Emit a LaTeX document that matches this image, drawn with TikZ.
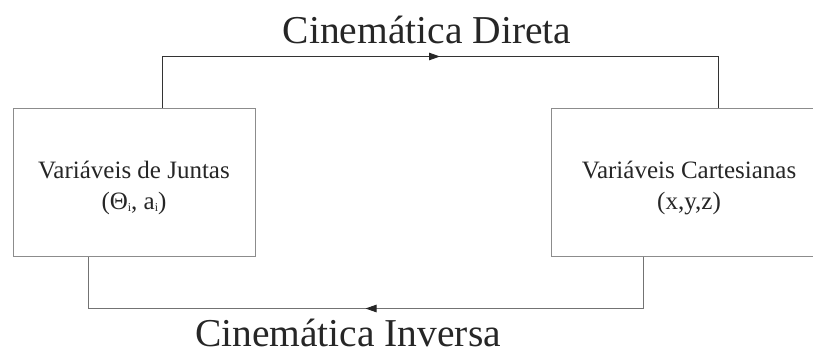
\documentclass[tikz,border=0pt]{standalone}
\usepackage{fontspec}
\setmainfont{Liberation Serif}
\usetikzlibrary{arrows.meta,decorations.markings}
\newcommand{\tinysub}[1]{\raisebox{-1.5pt}{\fontsize{12}{12}\selectfont #1}}
\tikzset{
  varbox/.style={draw=black!45, line width=1pt, inner sep=0pt, minimum height=148pt},
  boxtext/.style={align=center, inner sep=0pt, font=\fontsize{25}{31}\selectfont, text=black!85},
  midarrow/.style={postaction={decorate}, decoration={markings,
    mark=at position 0.5 with {\arrow[black!85]{Triangle[length=11pt,width=7.5pt]}}}},
  fwdline/.style={draw=black!80, line width=0.9pt, midarrow},
  invline/.style={draw=black!55, line width=0.9pt, midarrow},
  bigtext/.style={font=\fontsize{39.5}{44}\selectfont, text=black!85, inner sep=0pt, anchor=base, text depth=0pt}
}
\begin{document}
\begin{tikzpicture}[x=1pt,y=-1pt]
\useasboundingbox (0,0) rectangle (813,354);
\node[varbox, minimum width=242pt] (L) at (134,182) {};
\node[varbox, minimum width=276pt] (R) at (689,182) {};
\node[boxtext] (Lt) at ([yshift=-6pt]L.center) {Variáveis de Juntas\\(Θ\tinysub{i}, a\tinysub{i})};
\node[boxtext] (Rt) at ([yshift=-6pt]R.center) {Variáveis Cartesianas\\(x,y,z)};
\draw[fwdline] ([xshift=28pt]L.north) -- ++(0,-51) -| ([xshift=29pt]R.north);
\draw[invline] ([xshift=-46pt]R.south) -- ++(0,52) -| ([xshift=-46pt]L.south);
\node[bigtext] (td) at (427,43) {Cinemática Direta};
\node[bigtext] (ti) at (348,346) {Cinemática Inversa};
\end{tikzpicture}
\end{document}
